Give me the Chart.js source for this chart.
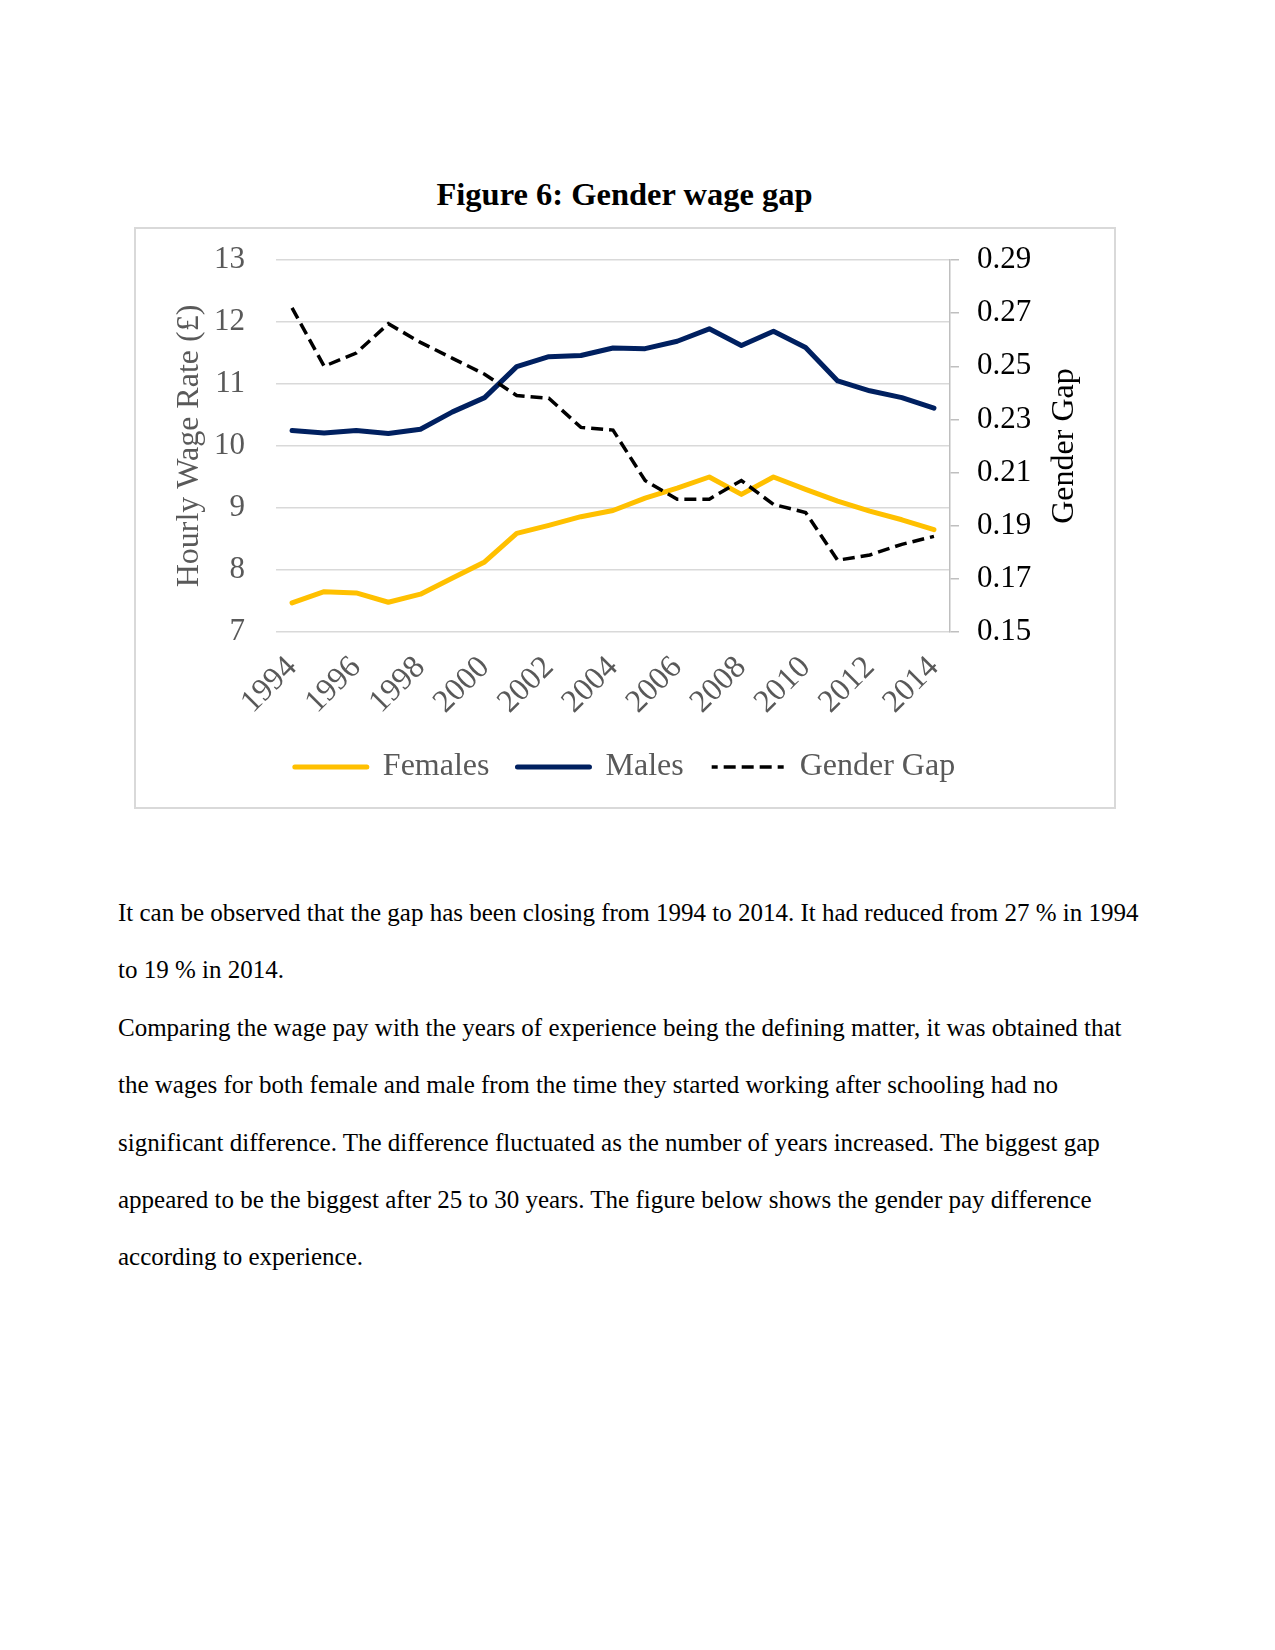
<!DOCTYPE html>
<html>
<head>
<meta charset="utf-8">
<script src="https://cdn.jsdelivr.net/npm/chart.js@4.4.1/dist/chart.umd.min.js"></script>
<style>
	html, body { margin: 0; padding: 0; background: #fff; }
	body { width: 1275px; height: 1650px; position: relative; font-family: "Liberation Serif", "Times New Roman", serif; }
	#title { position: absolute; left: 135px; top: 176px; width: 979px; text-align: center; font-weight: bold; font-size: 32.5px; line-height: 36px; color: #000; }
	#box { position: absolute; left: 134px; top: 227px; width: 978px; height: 578px; border: 2px solid #d9d9d9; }
	#box canvas { display: block; }
	#text { position: absolute; left: 118px; top: 884px; font-size: 25px; line-height: 57.4px; color: #000; }
	#text div { white-space: nowrap; }
</style>
</head>
<body>
<div id="title">Figure 6: Gender wage gap</div>
<div id="box"><canvas id="gapChart" width="978" height="578"></canvas></div>
<div id="text">
	<div>It can be observed that the gap has been closing from 1994 to 2014. It had reduced from 27 % in 1994</div>
	<div>to 19 % in 2014.</div>
	<div>Comparing the wage pay with the years of experience being the defining matter, it was obtained that</div>
	<div>the wages for both female and male from the time they started working after schooling had no</div>
	<div>significant difference. The difference fluctuated as the number of years increased. The biggest gap</div>
	<div>appeared to be the biggest after 25 to 30 years. The figure below shows the gender pay difference</div>
	<div>according to experience.</div>
</div>
<script>
var years = ['1994', '1995', '1996', '1997', '1998', '1999', '2000', '2001', '2002', '2003', '2004',
	'2005', '2006', '2007', '2008', '2009', '2010', '2011', '2012', '2013', '2014'];

// hourly wage rate (GBP), left axis
var females = [7.47, 7.65, 7.63, 7.48, 7.61, 7.87, 8.13, 8.59, 8.72, 8.86, 8.96,
	9.16, 9.32, 9.50, 9.22, 9.50, 9.30, 9.11, 8.95, 8.81, 8.65];
var males = [10.25, 10.21, 10.25, 10.20, 10.27, 10.55, 10.78, 11.28, 11.44, 11.46, 11.58,
	11.57, 11.69, 11.89, 11.62, 11.85, 11.59, 11.05, 10.89, 10.78, 10.61];

// gender gap, right axis
var gap = [0.272, 0.250, 0.255, 0.266, 0.259, 0.253, 0.247, 0.239, 0.238, 0.227, 0.226,
	0.207, 0.200, 0.200, 0.207, 0.198, 0.195, 0.177, 0.179, 0.183, 0.186];

var grey = '#595959';
Chart.defaults.font.family = '"Liberation Serif", "Times New Roman", serif';

// Excel puts the secondary axis title bottom-to-top, Chart.js turns it the other way
var rightTitle = {
	id: 'rightTitle',
	afterDraw: function(chart) {
		var ctx = chart.ctx;
		var sc = chart.scales.y2;
		var area = chart.chartArea;
		ctx.save();
		ctx.translate(sc.right - 49, (area.top + area.bottom) / 2);
		ctx.rotate(-Math.PI / 2);
		ctx.font = '32px "Liberation Serif", serif';
		ctx.fillStyle = '#000';
		ctx.textAlign = 'center';
		ctx.textBaseline = 'middle';
		ctx.fillText('Gender Gap', 0, 0);
		ctx.restore();
	}
};

var ctx = document.getElementById('gapChart').getContext('2d');
var gapChart = new Chart(ctx, {
	type: 'line',
	data: {
		labels: years,
		datasets: [
			{
				label: 'Females',
				data: females,
				yAxisID: 'y',
				order: 3,
				borderColor: '#ffc000',
				backgroundColor: '#ffc000',
				borderWidth: 5,
				borderCapStyle: 'round',
				borderJoinStyle: 'round',
				pointRadius: 0,
				tension: 0
			},
			{
				label: 'Males',
				data: males,
				yAxisID: 'y',
				order: 2,
				borderColor: '#002060',
				backgroundColor: '#002060',
				borderWidth: 5,
				borderCapStyle: 'round',
				borderJoinStyle: 'round',
				pointRadius: 0,
				tension: 0
			},
			{ // drawn last, on top, like the Excel original
				label: 'Gender Gap',
				data: gap,
				yAxisID: 'y2',
				order: 1,
				borderColor: '#000',
				backgroundColor: '#000',
				borderWidth: 3.5,
				borderDash: [12, 6],
				pointRadius: 0,
				tension: 0
			}
		]
	},
	options: {
		responsive: false,
		animation: false,
		layout: {
			padding: { top: 31, left: 0, right: 0, bottom: 14 }
		},
		scales: {
			x: {
				offset: true,
				grid: { display: false, drawTicks: false },
				border: { display: false },
				ticks: {
					autoSkip: false,
					minRotation: 45,
					maxRotation: 45,
					padding: 17,
					color: grey,
					font: { size: 32 },
					callback: function(v, i) {
						return i % 2 === 0 ? years[i] : '';
					}
				},
				afterFit: function(scale) { scale.height = 91; }
			},
			y: {
				position: 'left',
				min: 7,
				max: 13,
				// hidden tick marks make the label gap without pushing the plot top down
				ticks: { stepSize: 1, padding: 12, color: grey, font: { size: 31, lineHeight: 0.8 } },
				grid: { color: '#d9d9d9', lineWidth: 1.5, drawTicks: true, tickLength: 19, tickColor: 'rgba(0,0,0,0)' },
				border: { display: false },
				title: {
					display: true,
					text: 'Hourly Wage Rate (£)',
					color: grey,
					font: { size: 32 },
					padding: { top: 34, bottom: 0 }
				},
				afterFit: function(scale) { scale.width = 140; }
			},
			y2: {
				position: 'right',
				min: 0.15,
				max: 0.29,
				ticks: {
					stepSize: 0.02,
					padding: 18,
					color: '#000',
					font: { size: 31, lineHeight: 0.8 },
					callback: function(v) { return v.toFixed(2); }
				},
				grid: { drawOnChartArea: false, drawTicks: true, tickLength: 9, color: '#bfbfbf', lineWidth: 1.5 },
				border: { display: true, color: '#bfbfbf', width: 1.5 },
				afterFit: function(scale) { scale.width = 164; }
			}
		},
		plugins: {
			legend: {
				position: 'bottom',
				labels: {
					// zero-height box: the stroke is a plain line that keeps the dash
					boxWidth: 72,
					boxHeight: 0,
					padding: 28,
					color: grey,
					font: { size: 32 },
					sort: function(a, b) { return a.datasetIndex - b.datasetIndex; },
					generateLabels: function(chart) {
						var items = Chart.defaults.plugins.legend.labels.generateLabels(chart);
						items.forEach(function(it) {
							// phase so the way back over the flat rect lands on the same dashes
							if (it.lineDash && it.lineDash.length) it.lineDashOffset = 6;
						});
						return items;
					}
				}
			},
			tooltip: { enabled: false }
		}
	},
	plugins: [rightTitle]
});
</script>
</body>
</html>
